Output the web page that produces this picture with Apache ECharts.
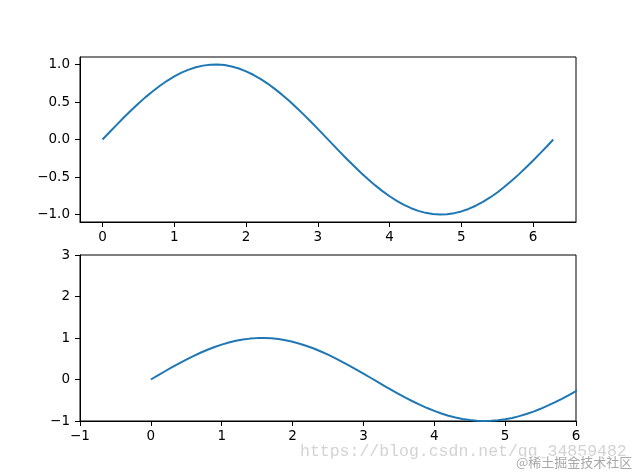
<!DOCTYPE html>
<html>
<head>
<meta charset="utf-8">
<script src="https://cdn.jsdelivr.net/npm/echarts@6/dist/echarts.min.js"></script>
<style>html,body{margin:0;padding:0;background:#fff}#c{width:640px;height:473px}</style>
</head>
<body>
<div id="c"></div>
<script>
var xValues = [0.0, 0.1, 0.2, 0.3, 0.4, 0.5, 0.6, 0.7, 0.8, 0.9,
  1.0, 1.1, 1.2, 1.3, 1.4, 1.5, 1.6, 1.7, 1.8, 1.9,
  2.0, 2.1, 2.2, 2.3, 2.4, 2.5, 2.6, 2.7, 2.8, 2.9,
  3.0, 3.1, 3.2, 3.3, 3.4, 3.5, 3.6, 3.7, 3.8, 3.9,
  4.0, 4.1, 4.2, 4.3, 4.4, 4.5, 4.6, 4.7, 4.8, 4.9,
  5.0, 5.1, 5.2, 5.3, 5.4, 5.5, 5.6, 5.7, 5.8, 5.9,
  6.0, 6.1, 6.2, 6.28];
var yValues = [0.000, 0.100, 0.199, 0.296, 0.389, 0.479, 0.565, 0.644, 0.717, 0.783,
  0.841, 0.891, 0.932, 0.964, 0.985, 0.997, 1.000, 0.992, 0.974, 0.946,
  0.909, 0.863, 0.808, 0.746, 0.675, 0.598, 0.516, 0.427, 0.335, 0.239,
  0.141, 0.042, -0.058, -0.158, -0.256, -0.351, -0.443, -0.530, -0.612, -0.688,
  -0.757, -0.818, -0.872, -0.916, -0.952, -0.978, -0.994, -1.000, -0.996, -0.982,
  -0.959, -0.926, -0.883, -0.832, -0.773, -0.706, -0.631, -0.551, -0.465, -0.374,
  -0.279, -0.182, -0.083, 0.000];
var topXTicks = [0, 1, 2, 3, 4, 5, 6];
var topYTicks = [-1.0, -0.5, 0.0, 0.5, 1.0];

var pts = xValues.map(function (x, i) { return [x, yValues[i]]; });
var FONT = 'DejaVu Sans';
var FS = 13.5;
function minus(s) { return String(s).replace('-', '\u2212'); }

function axisCommon() {
  return {
    axisLine: { show: true, onZero: false, lineStyle: { color: '#000', width: 1 } },
    axisTick: { show: true, inside: false, length: 5, lineStyle: { color: '#000', width: 1 } },
    splitLine: { show: false },
    axisLabel: { color: '#000', fontFamily: FONT, fontSize: FS }
  };
}
function mk(extra) {
  var a = axisCommon();
  for (var k in extra) {
    if (typeof extra[k] === 'object' && a[k]) { for (var j in extra[k]) a[k][j] = extra[k][j]; }
    else a[k] = extra[k];
  }
  return a;
}

var chart = echarts.init(document.getElementById('c'), null, { renderer: 'canvas' });
chart.setOption({
  animation: false,
  backgroundColor: '#fff',
  grid: [
    { left: 80, top: 57, width: 496, height: 165, show: true, borderColor: '#000', borderWidth: 1, backgroundColor: 'transparent' },
    { left: 80, top: 255, width: 496, height: 166, show: true, borderColor: '#000', borderWidth: 1, backgroundColor: 'transparent' }
  ],
  xAxis: [
    mk({ type: 'value', gridIndex: 0, min: -0.314, max: 6.597,
      axisTick: { customValues: topXTicks },
      axisLabel: { customValues: topXTicks, margin: 8, formatter: function (v) { return minus(v); } } }),
    mk({ type: 'value', gridIndex: 1, min: -1, max: 6, interval: 1,
      axisLabel: { margin: 8, showMinLabel: true, showMaxLabel: true, formatter: function (v) { return minus(v); } } })
  ],
  yAxis: [
    mk({ type: 'value', gridIndex: 0, min: -1.1, max: 1.1,
      axisTick: { customValues: topYTicks },
      axisLabel: { customValues: topYTicks, margin: 10, formatter: function (v) { return minus(v.toFixed(1)); } } }),
    mk({ type: 'value', gridIndex: 1, min: -1, max: 3, interval: 1,
      axisLabel: { margin: 10, showMinLabel: true, showMaxLabel: true, formatter: function (v) { return minus(v); } } })
  ],
  series: [
    { type: 'line', xAxisIndex: 0, yAxisIndex: 0, data: pts, showSymbol: false, smooth: false,
      lineStyle: { color: '#1f77b4', width: 2, join: 'round', cap: 'butt' }, clip: true },
    { type: 'line', xAxisIndex: 1, yAxisIndex: 1, data: pts, showSymbol: false, smooth: false,
      lineStyle: { color: '#1f77b4', width: 2, join: 'round', cap: 'butt' }, clip: true }
  ],
  graphic: [
    { type: 'text', left: 300, top: 443, z: 100, style: { text: 'https://blog.csdn.net/qq_34859482', fill: 'rgba(200,200,200,0.8)', font: '16.5px "Liberation Mono"' } },
    { type: 'text', left: 515, top: 455, z: 101, style: { text: '@稀土掘金技术社区', fill: '#a8a8a8', font: '13px "Noto Sans CJK SC"', stroke: '#fff', lineWidth: 2 } }
  ]
});
</script>
</body>
</html>
